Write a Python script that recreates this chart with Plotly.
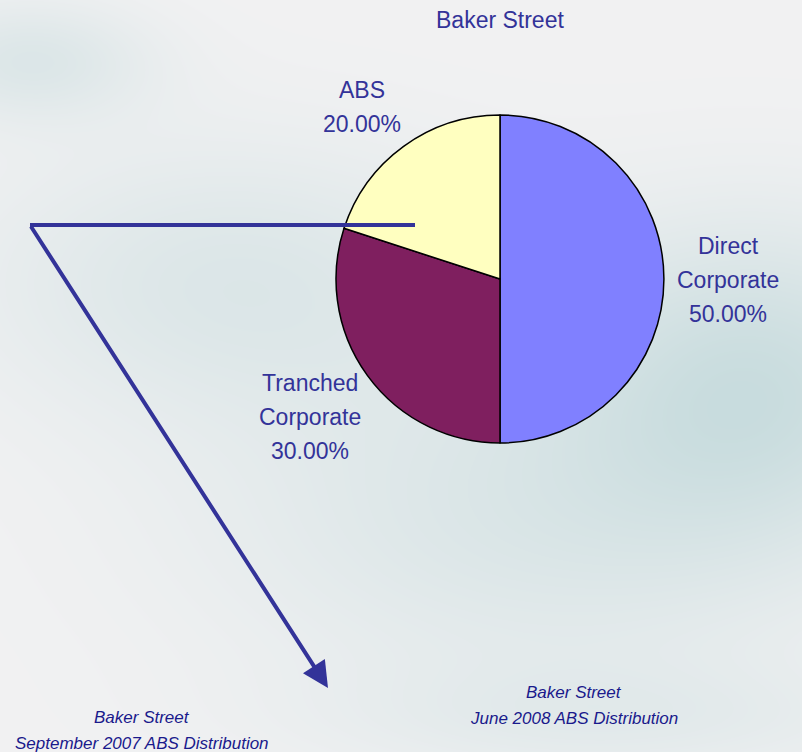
import base64
import struct
import zlib

import numpy as np
import plotly.graph_objects as go

W, H = 802, 752

# Portfolio split
categories = ["Direct Corporate", "Tranched Corporate", "ABS"]
shares = [50.0, 30.0, 20.0]
slice_colors = ["#8080FF", "#7F1F5F", "#FFFFC0"]

title_text = "Baker Street"
caption_left = ["Baker Street", "September 2007 ABS Distribution"]
caption_right = ["Baker Street", "June 2008 ABS Distribution"]

INK = "#333399"
FONT = "Liberation Sans, Arial, sans-serif"


def px(x):
    return x / W


def py(y):
    return 1 - y / H


def make_backdrop():
    """Soft grey-teal wash used behind the chart."""
    yy, xx = np.mgrid[0:H, 0:W].astype(float)
    base = np.array([242, 242, 243], float)
    tint = np.array([196, 218, 220], float)

    def blob(cx, cy, sx, sy, a):
        return a * np.exp(-(((xx - cx) / sx) ** 2 + ((yy - cy) / sy) ** 2))

    w = (blob(30, 60, 120, 60, 0.45) + blob(230, 280, 260, 140, 0.45)
         + blob(760, 380, 200, 160, 0.75) + blob(520, 520, 320, 170, 0.45)
         + blob(620, 720, 300, 60, 0.25))
    w = np.clip(w, 0, 1)[..., None]
    img = (base * (1 - w) + tint * w).clip(0, 255).astype(np.uint8)
    raw = b"".join(b"\x00" + img[r].tobytes() for r in range(H))

    def chunk(tag, data):
        c = tag + data
        return struct.pack(">I", len(data)) + c + struct.pack(">I", zlib.crc32(c) & 0xFFFFFFFF)

    png = (b"\x89PNG\r\n\x1a\n"
           + chunk(b"IHDR", struct.pack(">IIBBBBB", W, H, 8, 2, 0, 0, 0))
           + chunk(b"IDAT", zlib.compress(raw, 9))
           + chunk(b"IEND", b""))
    return "data:image/png;base64," + base64.b64encode(png).decode()


fig = go.Figure(go.Pie(
    labels=categories,
    values=shares,
    marker=dict(colors=slice_colors, line=dict(color="black", width=1.5)),
    sort=False,
    direction="clockwise",
    rotation=0,
    textinfo="none",
    hoverinfo="label+percent",
    showlegend=False,
    domain=dict(x=[px(336), px(664)], y=[py(443), py(115)]),
))

annotations = []


def text_block(lines, x, y0, step, size, color, italic=False):
    """Stack lines of centred text, one annotation per line."""
    for i, s in enumerate(lines):
        annotations.append(dict(
            x=px(x), y=py(y0 + i * step), xref="paper", yref="paper",
            text=f"<i>{s}</i>" if italic else s,
            showarrow=False, xanchor="center", yanchor="middle",
            font=dict(family=FONT, size=size, color=color)))


# Slice labels: name words plus share
label_pos = {
    "Direct Corporate": (728, 246),
    "Tranched Corporate": (310, 383),
    "ABS": (362, 90),
}
total = sum(shares)
for name, val in zip(categories, shares):
    x, y = label_pos[name]
    text_block(name.split(" ") + [f"{val / total * 100:.2f}%"], x, y, 34, 23, INK)

text_block([title_text], 500, 20, 0, 23, INK)
text_block(caption_left, 142, 717, 26, 17, "#1a1a8c", italic=True)
text_block(caption_right, 574, 692, 26, 17, "#1a1a8c", italic=True)

# Pointer arrow from the ABS slice down to the earlier distribution
tail = (30, 225)
head = (328, 688)
annotations.append(dict(
    x=px(head[0]), y=py(head[1]), xref="paper", yref="paper",
    ax=tail[0] - head[0], ay=tail[1] - head[1], axref="pixel", ayref="pixel",
    text="", showarrow=True, arrowhead=2, arrowsize=1.3, arrowwidth=4,
    arrowcolor=INK))

shapes = [dict(
    type="line", xref="paper", yref="paper",
    x0=px(415), y0=py(225), x1=px(30), y1=py(225),
    line=dict(color=INK, width=4))]

fig.update_layout(
    width=W, height=H,
    margin=dict(l=0, r=0, t=0, b=0),
    paper_bgcolor="#eef0f0",
    plot_bgcolor="rgba(0,0,0,0)",
    images=[dict(source=make_backdrop(), xref="paper", yref="paper",
                 x=0, y=1, sizex=1, sizey=1, sizing="stretch",
                 xanchor="left", yanchor="top", layer="below")],
    annotations=annotations,
    shapes=shapes,
)

fig.write_html("out.html")
